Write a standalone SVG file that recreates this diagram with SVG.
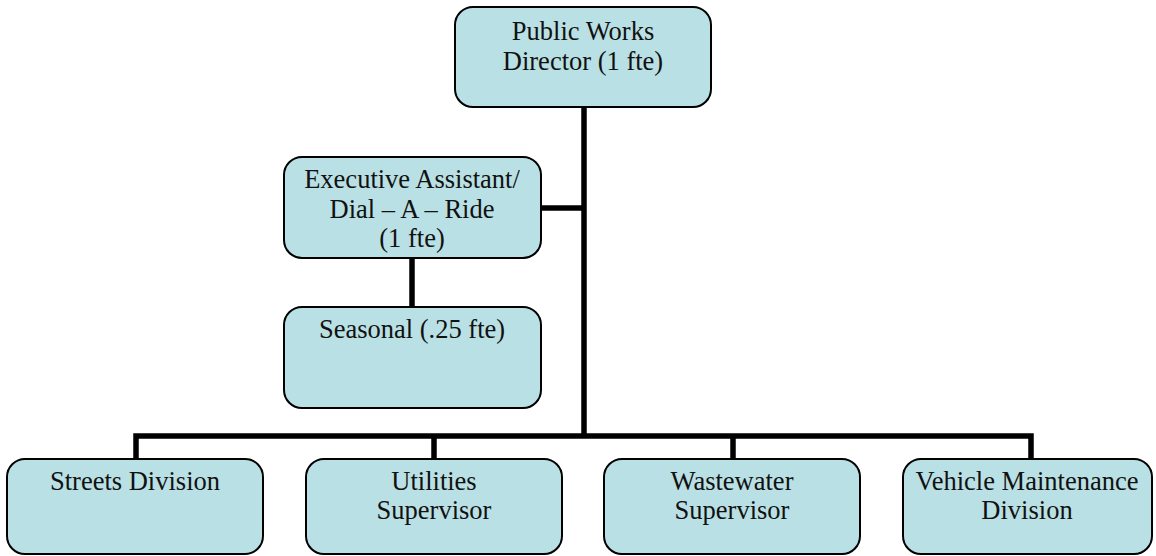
<svg xmlns="http://www.w3.org/2000/svg" width="1156" height="556" viewBox="0 0 1156 556">
  <style>
    .box { fill: #b9e0e4; stroke: #000; stroke-width: 2; }
    .lbl { font-family: "Liberation Serif", "Times New Roman", serif; font-size: 26.5px; fill: #111; text-anchor: middle; }
    .conn { fill: none; stroke: #000; stroke-width: 5.5; stroke-linecap: butt; stroke-linejoin: miter; }
  </style>
  <rect width="1156" height="556" fill="#fff"/>

  <!-- reporting lines -->
  <g id="connectors">
    <path class="conn" d="M584,107 V436"/>
    <path class="conn" d="M541,208 H584"/>
    <path class="conn" d="M412,258 V307"/>
    <path class="conn" d="M136,459 V436 H1031 V459"/>
    <path class="conn" d="M434,436 V459"/>
    <path class="conn" d="M733,436 V459"/>
  </g>

  <g id="director">
    <rect class="box" x="455" y="7" width="256" height="100" rx="18"/>
    <text class="lbl" x="583" y="40">Public Works</text>
    <text class="lbl" x="583" y="70">Director (1 fte)</text>
  </g>

  <g id="exec-assistant">
    <rect class="box" x="284" y="157" width="257" height="101" rx="18"/>
    <text class="lbl" x="412" y="188">Executive Assistant/</text>
    <text class="lbl" x="412" y="218">Dial – A – Ride</text>
    <text class="lbl" x="412" y="247">(1 fte)</text>
  </g>

  <g id="seasonal">
    <rect class="box" x="284" y="307" width="257" height="101" rx="18"/>
    <text class="lbl" x="412" y="338">Seasonal (.25 fte)</text>
  </g>

  <g id="streets">
    <rect class="box" x="7" y="459" width="256" height="95" rx="18"/>
    <text class="lbl" x="135" y="490">Streets Division</text>
  </g>

  <g id="utilities">
    <rect class="box" x="306" y="459" width="256" height="95" rx="18"/>
    <text class="lbl" x="434" y="490">Utilities</text>
    <text class="lbl" x="434" y="519">Supervisor</text>
  </g>

  <g id="wastewater">
    <rect class="box" x="604" y="459" width="256" height="95" rx="18"/>
    <text class="lbl" x="732" y="490">Wastewater</text>
    <text class="lbl" x="732" y="519">Supervisor</text>
  </g>

  <g id="vehicle-maintenance">
    <rect class="box" x="903" y="459" width="249" height="95" rx="18"/>
    <text class="lbl" x="1027" y="490">Vehicle Maintenance</text>
    <text class="lbl" x="1027" y="519">Division</text>
  </g>
</svg>
